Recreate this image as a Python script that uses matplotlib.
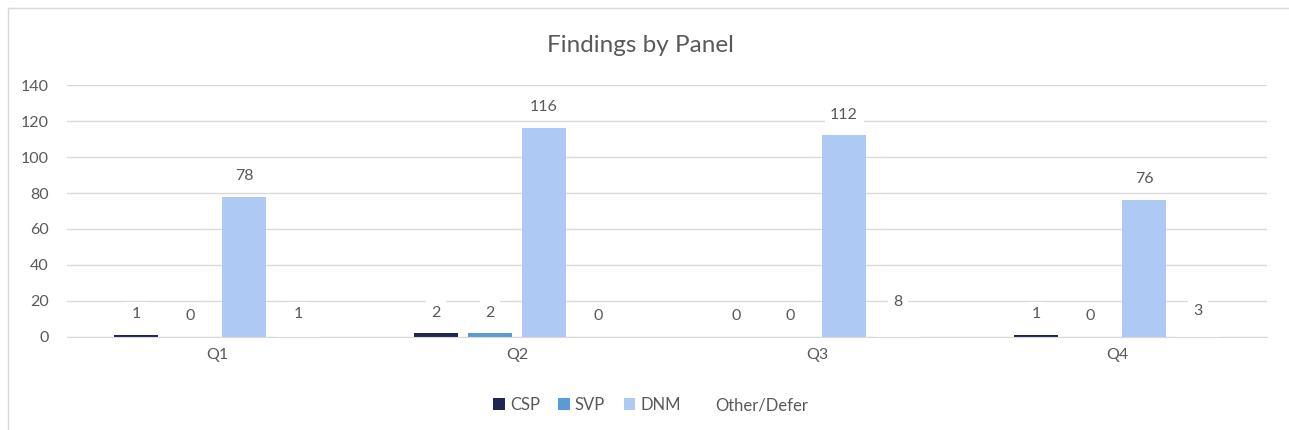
import numpy as np
import matplotlib.pyplot as plt
from matplotlib.lines import Line2D

# chart data
quarters = ["Q1", "Q2", "Q3", "Q4"]
series_names = ["CSP", "SVP", "DNM", "Other/Defer"]
csp = [1, 2, 0, 1]
svp = [0, 2, 0, 0]
dnm = [78, 116, 112, 76]
other = [1, 0, 8, 3]

colors = ["#1f2654", "#5b9bd5", "#adc9f4", "#ffffff"]
text_color = "#595959"

plt.rcParams['font.family'] = ['Lato', 'DejaVu Sans']

fig = plt.figure(figsize=(12.89, 4.30), dpi=100)
ax = fig.add_axes([0.052, 0.2163, 0.931, 0.586])

# light frame: only top and left edges fall inside the image
frame_x, frame_y = 7.5 / 1289, 1 - 7.5 / 430
fig.add_artist(Line2D([frame_x, 1.0], [frame_y, frame_y], transform=fig.transFigure,
                      color="#d9d9d9", linewidth=1))
fig.add_artist(Line2D([frame_x, frame_x], [0.0, frame_y], transform=fig.transFigure,
                      color="#d9d9d9", linewidth=1))

x = np.arange(len(quarters))
width = 0.145
offsets = [-0.27, -0.09, 0.09, 0.27]

for vals, name, col, off in zip([csp, svp, dnm, other], series_names, colors, offsets):
    bars = ax.bar(x + off, vals, width, color=col, label=name, zorder=2)
    for b, v in zip(bars, vals):
        ax.annotate(str(v), (b.get_x() + b.get_width() / 2, v),
                    xytext=(0, 15), textcoords="offset points",
                    ha="center", va="center", fontsize=11.5, color=text_color,
                    bbox=dict(boxstyle="square,pad=0.35", fc="white", ec="none"),
                    zorder=3)

ax.set_xlim(-0.5, 3.5)
ax.set_ylim(0, 140)
ax.set_yticks(range(0, 141, 20))
ax.set_xticks(x)
ax.set_xticklabels(quarters)
ax.tick_params(axis="both", length=0, labelsize=11.5, colors=text_color)
ax.tick_params(axis="x", pad=8)
ax.tick_params(axis="y", pad=13)
ax.grid(axis="y", color="#d9d9d9", linewidth=1, zorder=0)
ax.set_axisbelow(True)
for s in ["top", "right", "left"]:
    ax.spines[s].set_visible(False)
ax.spines["bottom"].set_color("#d9d9d9")

fig.text(0.497, 0.895, "Findings by Panel", ha="center", va="center",
         fontsize=17.5, color=text_color)

fig.legend(loc="center", bbox_to_anchor=(0.505, 0.058), ncol=4, frameon=False,
           fontsize=12, labelcolor=text_color, handlelength=0.7, handleheight=0.7,
           handletextpad=0.3, columnspacing=1.1)

plt.savefig("out.png", dpi=100)
